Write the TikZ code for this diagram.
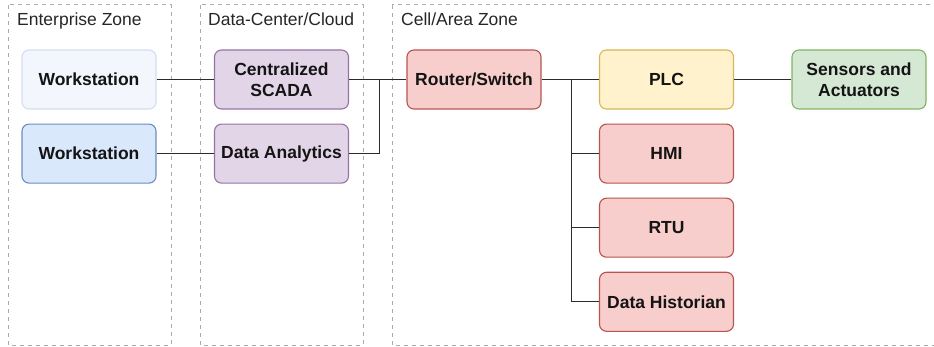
\documentclass[tikz,border=0pt]{standalone}
\usepackage{fontspec}
\setmainfont{Liberation Sans}
\usetikzlibrary{positioning}

\definecolor{zonegray}{HTML}{ABABAB}
\definecolor{wirecol}{HTML}{2B2B2B}
\definecolor{paleblue}{HTML}{F3F6FD}
\definecolor{paleblueline}{HTML}{D3DEF2}
\definecolor{blufill}{HTML}{DAE8FC}
\definecolor{bluline}{HTML}{6C8EBF}
\definecolor{purfill}{HTML}{E1D5E7}
\definecolor{purline}{HTML}{9673A6}
\definecolor{redfill}{HTML}{F8CECC}
\definecolor{redline}{HTML}{B85450}
\definecolor{yelfill}{HTML}{FFF2CC}
\definecolor{yelline}{HTML}{D6B656}
\definecolor{grnfill}{HTML}{D5E8D4}
\definecolor{grnline}{HTML}{82B366}

\begin{document}
\begin{tikzpicture}[x=1pt, y=-1pt,
    box/.style={draw, rounded corners=7pt, line width=1.1pt,
      minimum width=134pt, minimum height=59pt, align=center, inner sep=2pt,
      font=\fontsize{17.5}{21}\selectfont\bfseries, text=black!92},
    zone/.style={draw=zonegray, dash pattern=on 4pt off 4pt, line width=1pt},
    zonelabel/.style={anchor=base west, inner sep=0pt,
      font=\fontsize{17.5}{21}\selectfont, text=black!85},
    wire/.style={draw=wirecol, line width=1.1pt},
    node distance=14pt and 57.4pt]

  \useasboundingbox (0,0) rectangle (934,347);

  % zones
  \draw[zone] (8,5) rectangle (171,345);
  \draw[zone] (200,5) rectangle (363,345);
  \begin{scope}
    \clip (0,0) rectangle (934,347);
    \draw[zone] (392,5) rectangle (945,345);
  \end{scope}

  \node[zonelabel] (entlabel) at (17,26) {Enterprise Zone};
  \node[zonelabel] (dclabel) at (208,26) {Data-Center/Cloud};
  \node[zonelabel] (celllabel) at (401,26) {Cell/Area Zone};

  % enterprise
  \node[box, fill=paleblue, draw=paleblueline] (ws1) at (89,79.5) {Workstation};
  \node[box, fill=blufill, draw=bluline, below=of ws1] (ws2) {Workstation};

  % data center
  \node[box, fill=purfill, draw=purline, right=of ws1] (scada) {Centralized\\SCADA};
  \node[box, fill=purfill, draw=purline, below=of scada] (analytics) {Data Analytics};

  % cell / area
  \node[box, fill=redfill, draw=redline, right=of scada] (router) {Router/Switch};
  \node[box, fill=yelfill, draw=yelline, right=of router] (plc) {PLC};
  \node[box, fill=grnfill, draw=grnline, right=of plc] (sensors) {Sensors and\\Actuators};
  \node[box, fill=redfill, draw=redline, below=of plc] (hmi) {HMI};
  \node[box, fill=redfill, draw=redline, below=of hmi] (rtu) {RTU};
  \node[box, fill=redfill, draw=redline, below=of rtu] (historian) {Data Historian};

  \coordinate (cloudbus) at ([xshift=30pt]scada.east);
  \coordinate (cellbus) at ([xshift=30pt]router.east);

  \draw[wire] (ws1) -- (scada);
  \draw[wire] (ws2) -- (analytics);
  \draw[wire] (scada) -- (router);
  \draw[wire] (analytics.east) -| (cloudbus); %% analytics -> bus
  \draw[wire] (router) -- (plc);
  \draw[wire] (plc) -- (sensors);
  \draw[wire] (cellbus) |- (hmi.west);
  \draw[wire] (cellbus) |- (rtu.west);
  \draw[wire] (cellbus) |- (historian.west); %% bus -> historian
\end{tikzpicture}
\end{document}
